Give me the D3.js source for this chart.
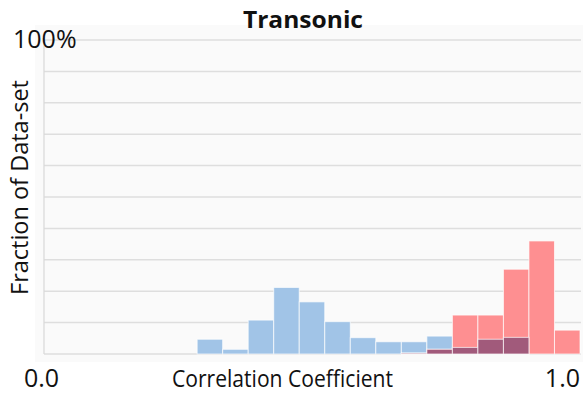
<!DOCTYPE html>
<html>
<head>
<meta charset="utf-8">
<script src="https://cdn.jsdelivr.net/npm/d3@7"></script>
<style>
  body { margin: 0; background: #fff; }
  text { font-family: "Open Sans", sans-serif; fill: #111; }
</style>
</head>
<body>
<div id="chart"></div>
<script>
// bin start values (width 0.05)
const binStarts = d3.range(21).map(i => +(i * 0.05).toFixed(2));
const binWidth = 0.05;
// percent of data-set per bin
const blueValues = [0, 0, 0, 0, 0, 0, 4.7, 1.5, 10.8, 21.2, 16.6, 10.3, 5.2, 3.9, 3.9, 5.7, 2.1, 4.7, 5.3, 0, 0];
const redValues  = [0, 0, 0, 0, 0, 0, 0, 0, 0, 0, 0, 0, 0, 0, 0.3, 1.5, 12.4, 12.4, 27.0, 36.0, 7.6];
const gridTicks = d3.range(0, 101, 10);

const width = 583, height = 394;
const svg = d3.select("#chart").append("svg")
    .attr("width", width)
    .attr("height", height);

const x = d3.scaleLinear().domain([0, 1.05]).range([44, 580]);
const y = d3.scaleLinear().domain([0, 100]).range([354, 40]);

// panel background
svg.append("rect")
    .attr("x", 35).attr("y", 25)
    .attr("width", width - 35).attr("height", 337)
    .attr("fill", "#fafafa");

svg.selectAll(".grid")
    .data(gridTicks)
    .enter()
    .append("line")
    .attr("class", "grid")
    .attr("x1", x(0)).attr("x2", 581)
    .attr("y1", d => y(d)).attr("y2", d => y(d))
    .attr("stroke", "#dedede")
    .attr("stroke-width", 1.5);

svg.append("line")
    .attr("x1", x(0)).attr("x2", x(0))
    .attr("y1", y(100)).attr("y2", y(0))
    .attr("stroke", "#d8d8d8")
    .attr("stroke-width", 1.2);

const bins = binStarts.map((b, i) => ({ x0: b, blue: blueValues[i], red: redValues[i] }));

function drawBars(cls, key, fill) {
    svg.selectAll("." + cls)
        .data(bins.filter(d => key(d) > 0))
        .enter()
        .append("rect")
        .attr("class", cls)
        .attr("x", d => x(d.x0))
        .attr("width", d => x(d.x0 + binWidth) - x(d.x0))
        .attr("y", d => y(key(d)))
        .attr("height", d => y(0) - y(key(d)))
        .attr("fill", fill)
        .attr("stroke", "#fff")
        .attr("stroke-opacity", 0.7)
        .attr("stroke-width", 1);
}

drawBars("blue", d => d.blue, "#a1c4e7");
drawBars("red", d => d.red, "#fe8f91");
drawBars("both", d => Math.min(d.blue, d.red), "#a15a7b");

// texts
svg.append("text")
    .attr("x", 303).attr("y", 28)
    .attr("text-anchor", "middle")
    .attr("font-size", 24)
    .attr("font-weight", "bold")
    .attr("textLength", 120)
    .attr("lengthAdjust", "spacingAndGlyphs")
    .text("Transonic");

svg.append("text")
    .attr("x", 13).attr("y", 48)
    .attr("font-size", 25)
    .text("100%");

svg.append("text")
    .attr("x", 24).attr("y", 387)
    .attr("font-size", 25)
    .text("0.0");

svg.append("text")
    .attr("x", 580).attr("y", 387)
    .attr("text-anchor", "end")
    .attr("font-size", 25)
    .text("1.0");

svg.append("text")
    .attr("x", 172).attr("y", 387)
    .attr("font-size", 23)
    .attr("textLength", 221)
    .attr("lengthAdjust", "spacingAndGlyphs")
    .text("Correlation Coefficient");

svg.append("text")
    .attr("transform", "translate(28,295) rotate(-90)")
    .attr("font-size", 23)
    .attr("textLength", 215)
    .attr("lengthAdjust", "spacingAndGlyphs")
    .text("Fraction of Data-set");
</script>
</body>
</html>
